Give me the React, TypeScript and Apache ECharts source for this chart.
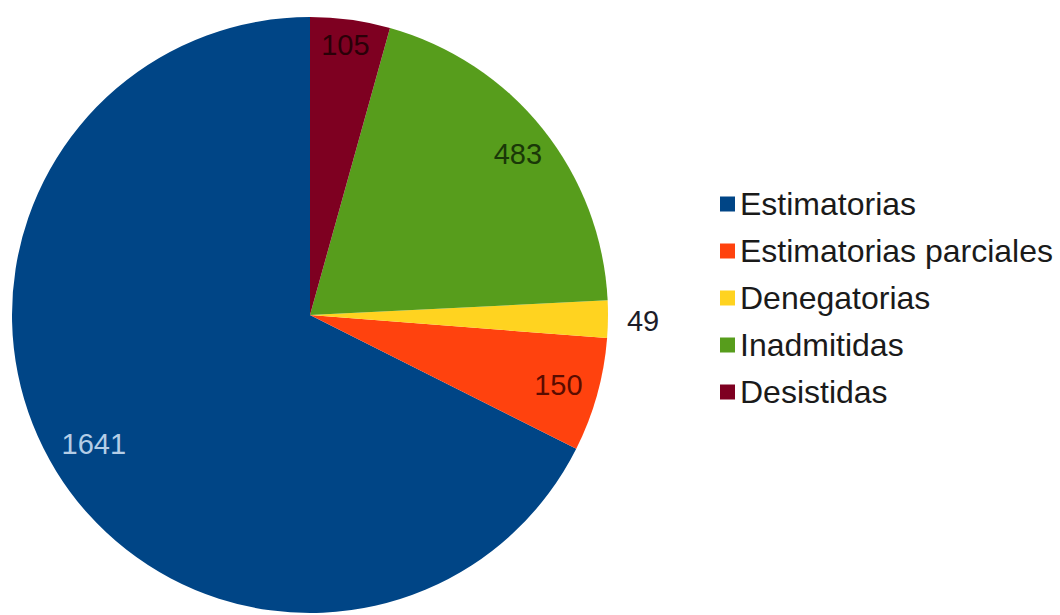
import React, { useEffect, useRef } from "react";
import * as echarts from "echarts";

const categories = ["Estimatorias", "Estimatorias parciales", "Denegatorias", "Inadmitidas", "Desistidas"];
const values = [1641, 150, 49, 483, 105];
const colors = ["#004586", "#ff420e", "#ffd320", "#579d1c", "#7e0021"];
const labelColors = ["#b4cde6", "#5a0c00", "#1c1c28", "#1a3808", "#2a0008"];
const outsideLabels = [false, false, true, false, false];
const labelOffsets = [[6, -8], [-3, 0], [0, 2], [4, 2], [0, -11]];

export default function App() {
  const ref = useRef<HTMLDivElement>(null);
  useEffect(() => {
    if (!ref.current) return;
    const chart = echarts.init(ref.current, undefined, { renderer: "svg" });
    const font = "'Liberation Sans', Arial, sans-serif";
    const baseData = categories.map((name, i) => ({
      name,
      value: values[i],
      itemStyle: { color: colors[i] },
    }));
    const labelData = categories.map((name, i) => ({
      name,
      value: values[i],
      itemStyle: { color: "rgba(0,0,0,0)" },
      label: {
        show: true,
        position: outsideLabels[i] ? "outside" : "inside",
        color: labelColors[i],
        offset: labelOffsets[i],
      },
      labelLine: { show: false, length: 8, length2: 6 },
    }));
    chart.setOption({
      animation: false,
      backgroundColor: "#ffffff",
      legend: {
        orient: "vertical",
        left: 715,
        top: 182,
        itemWidth: 15,
        itemHeight: 15,
        itemGap: 13,
        icon: "rect",
        data: categories,
        textStyle: { fontFamily: font, fontSize: 32, color: "#1a1a1a", lineHeight: 34 },
        selectedMode: false,
      },
      series: [
        {
          type: "pie",
          center: [310, 315],
          radius: [0, 298],
          startAngle: 90,
          clockwise: false,
          label: { show: false },
          labelLine: { show: false },
          silent: true,
          data: baseData,
        },
        {
          type: "pie",
          center: [310, 315],
          radius: [218, 298],
          startAngle: 90,
          clockwise: false,
          silent: true,
          legendHoverLink: false,
          label: { show: true, fontFamily: font, fontSize: 29, formatter: "{c}" },
          data: labelData,
        },
      ],
    });
    return () => chart.dispose();
  }, []);
  return (
    <div
      ref={ref}
      style={{ position: "fixed", left: 0, top: 0, width: 1060, height: 615 }}
    />
  );
}
